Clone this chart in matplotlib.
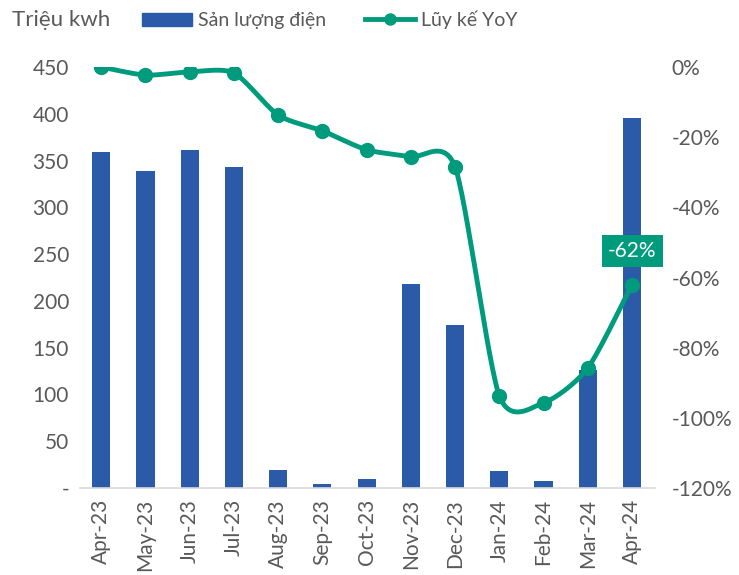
import numpy as np
import matplotlib.pyplot as plt
from matplotlib.lines import Line2D
from matplotlib.patches import Patch

plt.rcParams['font.family'] = ['Lato', 'DejaVu Sans']

thang = ['Apr-23', 'May-23', 'Jun-23', 'Jul-23', 'Aug-23', 'Sep-23', 'Oct-23',
         'Nov-23', 'Dec-23', 'Jan-24', 'Feb-24', 'Mar-24', 'Apr-24']
san_luong = [359, 339, 361, 343, 19, 4, 10, 218, 174, 18, 7, 126, 395]
luy_ke_yoy = [0.0, -2.3, -1.4, -1.7, -13.7, -18.2, -23.6, -25.6, -28.5,
              -93.7, -95.7, -85.8, -62.0]

xanh = '#2B5BA8'
xanh_la = '#009B7D'
xam = '#595959'


# duong cong muot kieu Excel (Bezier qua cac diem)
def duong_muot(x, y, k=1 / 8, n=30):
    x = np.asarray(x, float)
    y = np.asarray(y, float)
    px = np.concatenate([[x[0]], x, [x[-1]]])
    py = np.concatenate([[y[0]], y, [y[-1]]])
    xs, ys = [], []
    t = np.linspace(0, 1, n)
    for i in range(1, len(px) - 2):
        p0, p1, p2, p3 = (np.array([px[j], py[j]]) for j in range(i - 1, i + 3))
        c1 = p1 + (p2 - p0) * k
        c2 = p2 - (p3 - p1) * k
        pts = ((1 - t) ** 3)[:, None] * p1 + (3 * (1 - t) ** 2 * t)[:, None] * c1 \
            + (3 * (1 - t) * t ** 2)[:, None] * c2 + (t ** 3)[:, None] * p2
        xs.extend(pts[:, 0])
        ys.extend(pts[:, 1])
    return np.array(xs), np.array(ys)


fig = plt.figure(figsize=(7.39, 5.75), dpi=100)
ax = fig.add_axes([80 / 739, 1 - 488 / 575, 575 / 739, 421 / 575])
x = np.arange(len(thang))

ax.bar(x, san_luong, width=0.41, color=xanh, zorder=2)
ax.set_ylim(0, 450)
ax.set_xlim(-0.48, len(thang) - 0.48)
ax.set_yticks(range(0, 451, 50))
ax.set_yticklabels(['-'] + [str(v) for v in range(50, 451, 50)])
ax.set_xticks(x)
ax.set_xticklabels(thang, rotation=90)
for s in ['top', 'right', 'left']:
    ax.spines[s].set_visible(False)
ax.spines['bottom'].set_color('#D9D9D9')
ax.spines['bottom'].set_linewidth(1.2)
ax.tick_params(axis='both', length=0, labelsize=15, colors=xam, pad=8)

ax2 = ax.twinx()
ax2.set_ylim(-120, 0)
ax2.set_yticks(range(-120, 1, 20))
ax2.set_yticklabels([f'{v}%' for v in range(-120, 1, 20)])
for s in ax2.spines.values():
    s.set_visible(False)
ax2.tick_params(axis='y', length=0, labelsize=15, colors=xam, pad=12)

cx, cy = duong_muot(x, luy_ke_yoy)
ax2.plot(cx, cy, color=xanh_la, lw=3.5, solid_capstyle='round', zorder=3)
ax2.plot(x, luy_ke_yoy, 'o', color=xanh_la, ms=10, zorder=4)
ax2.annotate(f'{luy_ke_yoy[-1]:.0f}%', (x[-1], luy_ke_yoy[-1]), xytext=(0, 24),
             textcoords='offset points', ha='center', va='center', fontsize=15,
             color='white',
             bbox=dict(boxstyle='square,pad=0.3', fc=xanh_la, ec='none'))

fig.text(12 / 739, 1 - 20 / 575, 'Triệu kwh', fontsize=16, color=xam, va='center')
handles = [Patch(color=xanh, label='Sản lượng điện'),
           Line2D([], [], color=xanh_la, lw=3.5, marker='o', ms=8, label='Lũy kế YoY')]
fig.legend(handles=handles, loc='center left', bbox_to_anchor=(124 / 739, 1 - 20 / 575),
           ncol=2, frameon=False, fontsize=14, labelcolor=xam, handlelength=2.6,
           handletextpad=0.3, columnspacing=2.0)

fig.savefig('out.png', dpi=100)
